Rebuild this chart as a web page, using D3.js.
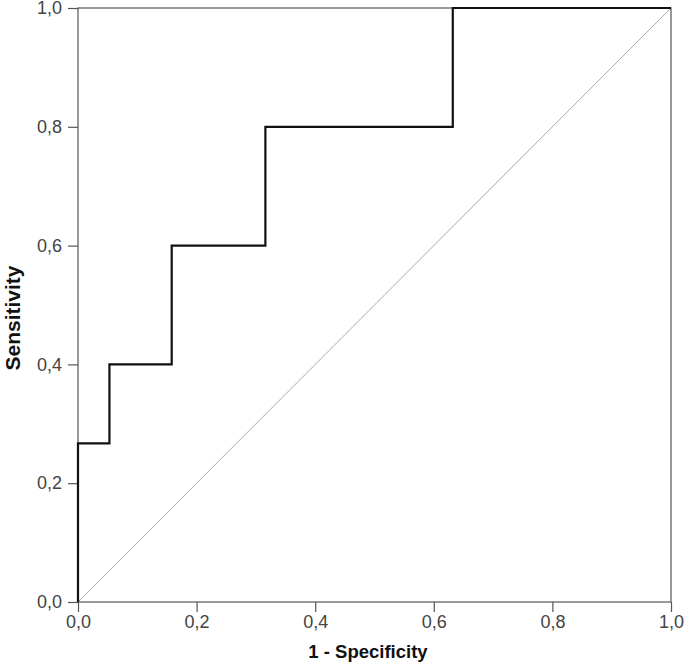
<!DOCTYPE html>
<html>
<head>
<meta charset="utf-8">
<script src="https://cdnjs.cloudflare.com/ajax/libs/d3/7.8.5/d3.min.js"></script>
<style>
  body { margin: 0; background: #fff; }
  svg { display: block; }
</style>
</head>
<body>
<svg width="685" height="667"></svg>
<script>
// ROC step points
let fpr = [0, 0, 0.053, 0.053, 0.158, 0.158, 0.316, 0.316, 0.632, 0.632, 1],
    tpr = [0, 0.267, 0.267, 0.4, 0.4, 0.6, 0.6, 0.8, 0.8, 1, 1],
    tick_values = [0, 0.2, 0.4, 0.6, 0.8, 1],
    tick_labels = ["0,0", "0,2", "0,4", "0,6", "0,8", "1,0"];

let svg = d3.select("svg"),
    m_left = 78, m_right = 671, m_top = 8, m_bottom = 602;

let x = d3.scaleLinear().domain([0, 1]).range([m_left, m_right]),
    y = d3.scaleLinear().domain([0, 1]).range([m_bottom, m_top]);

let fmt = d => tick_labels[tick_values.indexOf(d)];

// frame
svg.append("rect")
    .attr("x", m_left).attr("y", m_top)
    .attr("width", m_right - m_left).attr("height", m_bottom - m_top)
    .attr("fill", "none").attr("stroke", "#555").attr("stroke-width", 1.2);

// axes
let xAxis = svg.append("g")
    .attr("transform", `translate(0,${m_bottom})`)
    .call(d3.axisBottom(x).tickValues(tick_values).tickFormat(fmt).tickSize(10).tickPadding(3));
let yAxis = svg.append("g")
    .attr("transform", `translate(${m_left},0)`)
    .call(d3.axisLeft(y).tickValues(tick_values).tickFormat(fmt).tickSize(10).tickPadding(6));

[xAxis, yAxis].forEach(g => {
    g.select(".domain").remove();
    g.selectAll("line").attr("stroke", "#555").attr("stroke-width", 1.2);
    g.selectAll("text")
	.attr("font-family", "Liberation Sans, Arial, sans-serif")
	.attr("font-size", 18)
	.attr("fill", "#444");
});

// reference diagonal
svg.append("line")
    .attr("x1", x(0)).attr("y1", y(0))
    .attr("x2", x(1)).attr("y2", y(1))
    .attr("stroke", "#aaa").attr("stroke-width", 1);

// ROC curve
let pts = fpr.map((d, i) => [d, tpr[i]]);
svg.append("path")
    .datum(pts)
    .attr("fill", "none")
    .attr("stroke", "#111")
    .attr("stroke-width", 2.2)
    .attr("stroke-linejoin", "miter")
    .attr("d", d3.line().x(d => x(d[0])).y(d => y(d[1])));

// titles
svg.append("text")
    .attr("x", 368).attr("y", 658)
    .attr("text-anchor", "middle")
    .attr("font-family", "Liberation Sans, Arial, sans-serif")
    .attr("font-weight", "bold")
    .attr("font-size", 18.5)
    .attr("fill", "#111")
    .text("1 - Specificity");

svg.append("text")
    .attr("transform", "translate(20,318) rotate(-90)")
    .attr("text-anchor", "middle")
    .attr("font-family", "Liberation Sans, Arial, sans-serif")
    .attr("font-weight", "bold")
    .attr("font-size", 21)
    .attr("fill", "#111")
    .text("Sensitivity");
</script>
</body>
</html>
